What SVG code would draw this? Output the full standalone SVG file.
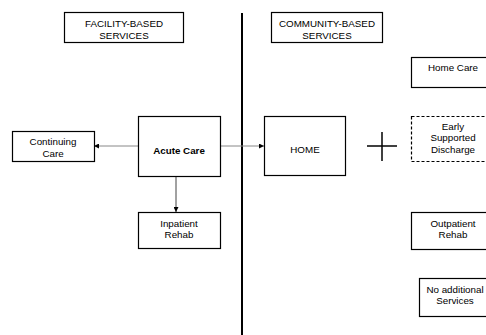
<svg xmlns="http://www.w3.org/2000/svg" width="486" height="335" viewBox="0 0 486 335">
<style>
.box{fill:#fff;stroke:#000;stroke-width:1.2}
.dash{fill:#fff;stroke:#000;stroke-width:1.2;stroke-dasharray:3,2}
text{font-family:"Liberation Sans",Arial,sans-serif;font-size:9.8px;fill:#000;text-anchor:middle}
.b{font-weight:bold}
.conn{stroke:#888;stroke-width:1;fill:none}
</style>
<defs>
<marker id="ah" viewBox="0 0 6 6" refX="6" refY="3" markerWidth="5" markerHeight="5" orient="auto" markerUnits="userSpaceOnUse">
<path d="M0,0 L6,3 L0,6 z" fill="#000"/>
</marker>
</defs>
<rect width="486" height="335" fill="#fff"/>
<line x1="242" y1="13" x2="242" y2="335" stroke="#000" stroke-width="2"/>
<g id="connectors">
<line class="conn" x1="138" y1="146" x2="94" y2="146" marker-end="url(#ah)"/>
<line class="conn" x1="220" y1="146" x2="264" y2="146" marker-end="url(#ah)"/>
<line x1="176" y1="176" x2="176" y2="212" stroke="#444" stroke-width="1" marker-end="url(#ah)"/>
</g>
<g id="facility"><rect class="box" x="64.5" y="12.5" width="119" height="30"/><text x="124" y="27">FACILITY-BASED</text><text x="124" y="38.5">SERVICES</text></g>
<g id="community"><rect class="box" x="271.5" y="12.5" width="111" height="30"/><text x="327" y="27">COMMUNITY-BASED</text><text x="327" y="38.5">SERVICES</text></g>
<g id="continuing"><rect class="box" x="12.5" y="131.5" width="82" height="30"/><text x="53" y="144.5">Continuing</text><text x="53" y="156.5">Care</text></g>
<g id="acute"><rect class="box" x="138.5" y="116.5" width="82" height="60"/><text class="b" x="179" y="154">Acute Care</text></g>
<g id="inpatient"><rect class="box" x="138.5" y="212.5" width="82" height="36"/><text x="179" y="226.5">Inpatient</text><text x="179" y="237.5">Rehab</text></g>
<g id="home"><rect class="box" x="264.5" y="116.5" width="81" height="59"/><text x="305" y="153">HOME</text></g>
<g id="plus"><line x1="367" y1="146" x2="397" y2="146" stroke="#000" stroke-width="1.5"/><line x1="382" y1="132" x2="382" y2="161" stroke="#000" stroke-width="1.5"/></g>
<g id="homecare"><rect class="box" x="411.5" y="57.5" width="84" height="30"/><text x="453" y="70.5">Home Care</text></g>
<g id="esd"><rect class="dash" x="411.5" y="116.5" width="84" height="45"/><text x="453" y="129.5">Early</text><text x="453" y="141">Supported</text><text x="453" y="152.5">Discharge</text></g>
<g id="outpatient"><rect class="box" x="411.5" y="212.5" width="84" height="37"/><text x="453" y="226.5">Outpatient</text><text x="453" y="237.5">Rehab</text></g>
<g id="noadditional"><rect class="box" x="419.5" y="278.5" width="74" height="38"/><text x="455" y="292.5">No additional</text><text x="455" y="303.5">Services</text></g>
</svg>
